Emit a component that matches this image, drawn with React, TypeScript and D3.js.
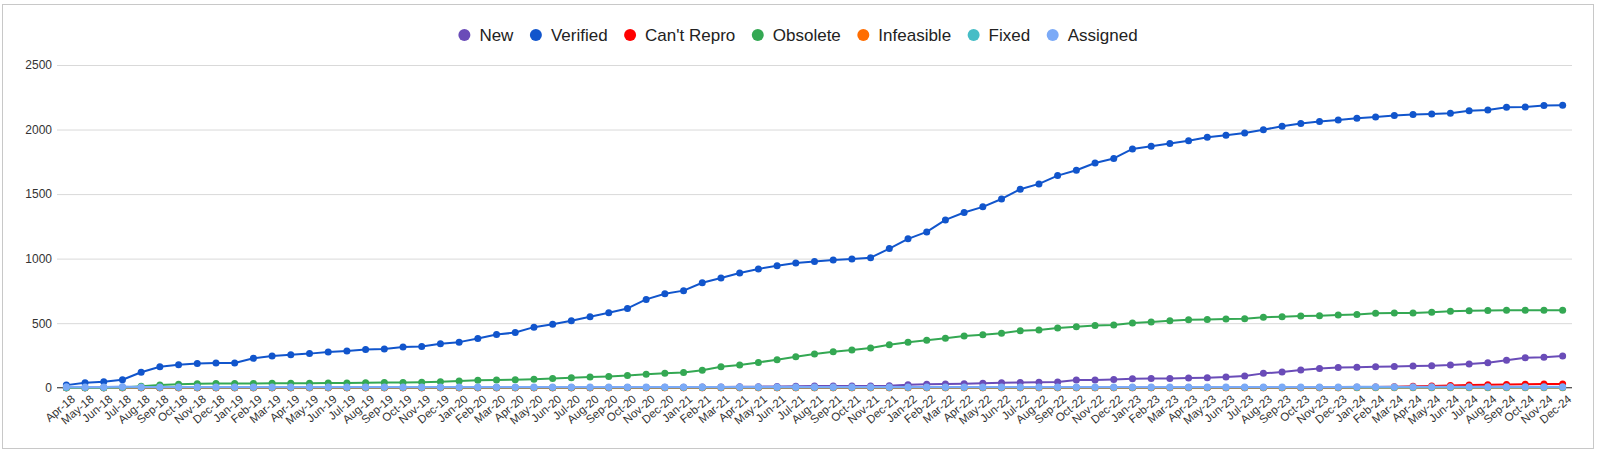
import React, { useEffect, useRef } from "react";
import * as d3 from "d3";

const months = [
  "Apr-18", "May-18", "Jun-18", "Jul-18", "Aug-18", "Sep-18", "Oct-18", "Nov-18", "Dec-18",
  "Jan-19", "Feb-19", "Mar-19", "Apr-19", "May-19", "Jun-19", "Jul-19", "Aug-19", "Sep-19", "Oct-19", "Nov-19", "Dec-19",
  "Jan-20", "Feb-20", "Mar-20", "Apr-20", "May-20", "Jun-20", "Jul-20", "Aug-20", "Sep-20", "Oct-20", "Nov-20", "Dec-20",
  "Jan-21", "Feb-21", "Mar-21", "Apr-21", "May-21", "Jun-21", "Jul-21", "Aug-21", "Sep-21", "Oct-21", "Nov-21", "Dec-21",
  "Jan-22", "Feb-22", "Mar-22", "Apr-22", "May-22", "Jun-22", "Jul-22", "Aug-22", "Sep-22", "Oct-22", "Nov-22", "Dec-22",
  "Jan-23", "Feb-23", "Mar-23", "Apr-23", "May-23", "Jun-23", "Jul-23", "Aug-23", "Sep-23", "Oct-23", "Nov-23", "Dec-23",
  "Jan-24", "Feb-24", "Mar-24", "Apr-24", "May-24", "Jun-24", "Jul-24", "Aug-24", "Sep-24", "Oct-24", "Nov-24", "Dec-24",
];

const newBugs = [
  0, 0, 0, 0, 0, 0, 0, 0, 0,
  0, 0, 0, 0, 0, 0, 0, 0, 0, 0, 0, 0,
  0, 0, 0, 0, 0, 0, 0, 0, 0, 1, 2, 3,
  4, 5, 6, 7, 8, 10, 11, 13, 13, 13, 13, 16,
  23, 27, 28, 31, 34, 39, 41, 42, 45, 59, 60, 63,
  69, 71, 72, 76, 78, 82, 91, 111, 121, 137, 148, 156,
  159, 162, 165, 168, 171, 175, 184, 194, 213, 232, 235, 245,
];

const verified = [
  20, 38, 46, 62, 120, 162, 177, 187, 192,
  192, 228, 246, 256, 264, 277, 285, 295, 300, 315, 320, 340,
  353, 381, 412, 427, 469, 492, 518, 549, 580, 614, 684, 728,
  752, 813, 850, 889, 920, 945, 966, 978, 989, 997, 1007, 1078,
  1153, 1207, 1300, 1357, 1401, 1462, 1538, 1579, 1643, 1685, 1741, 1776,
  1850, 1871, 1891, 1913, 1940, 1956, 1974, 1998, 2026, 2047, 2062, 2073,
  2088, 2098, 2109, 2116, 2121, 2127, 2145, 2152, 2173, 2175, 2186, 2188,
];

const cantRepro = [
  0, 0, 0, 0, 0, 0, 0, 0, 0,
  0, 0, 0, 0, 0, 0, 0, 0, 0, 0, 0, 0,
  0, 0, 0, 0, 0, 0, 0, 0, 0, 0, 0, 0,
  0, 0, 0, 0, 0, 0, 0, 0, 0, 0, 0, 0,
  0, 0, 0, 0, 0, 0, 0, 0, 0, 0, 0, 0,
  0, 0, 0, 0, 0, 0, 0, 0, 0, 0, 0, 0,
  3, 5, 8, 11, 14, 17, 20, 22, 25, 27, 28, 28,
];

const obsolete = [
  0, 0, 0, 2, 12, 20, 27, 30, 32,
  33, 33, 34, 34, 35, 36, 37, 38, 40, 41, 43, 46,
  52, 58, 60, 62, 65, 71, 77, 82, 87, 95, 104, 112,
  117, 136, 162, 175, 196, 217, 239, 261, 279, 293, 307, 332,
  352, 367, 383, 401, 411, 421, 442, 447, 463, 473, 481, 486,
  501, 509, 519, 527, 529, 532, 535, 545, 550, 555, 558, 563,
  568, 576, 578, 579, 584, 592, 597, 599, 600, 600, 600, 600,
];

const infeasible = [
  0, 0, 0, 0, 0, 0, 0, 0, 0,
  0, 0, 0, 0, 0, 0, 0, 0, 0, 0, 0, 0,
  0, 0, 0, 0, 0, 0, 0, 0, 0, 0, 0, 0,
  0, 0, 0, 0, 0, 0, 0, 0, 0, 0, 0, 0,
  0, 0, 0, 0, 0, 0, 0, 0, 0, 0, 0, 0,
  0, 0, 0, 0, 0, 0, 0, 0, 0, 0, 0, 0,
  0, 0, 0, 0, 0, 0, 0, 0, 0, 0, 0, 0,
];

const fixed = [
  0, 0, 0, 2, 2, 2, 2, 2, 2,
  2, 2, 2, 2, 2, 2, 2, 2, 2, 2, 2, 2,
  2, 2, 2, 2, 2, 2, 2, 2, 2, 2, 2, 2,
  2, 2, 2, 2, 2, 2, 2, 2, 2, 2, 2, 2,
  2, 2, 2, 2, 2, 2, 2, 2, 2, 2, 2, 2,
  2, 2, 2, 2, 2, 2, 2, 2, 2, 2, 2, 2,
  2, 2, 2, 2, 2, 2, 2, 2, 2, 2, 2, 2,
];

const assigned = [
  8, 6, 6, 10, 6, 6, 6, 6, 6,
  6, 6, 6, 6, 6, 6, 6, 6, 6, 6, 6, 6,
  6, 6, 6, 6, 6, 6, 6, 6, 6, 6, 6, 6,
  6, 6, 6, 6, 6, 6, 6, 6, 6, 6, 6, 6,
  6, 6, 6, 6, 6, 6, 6, 6, 6, 6, 6, 6,
  6, 6, 6, 6, 6, 6, 6, 6, 6, 6, 6, 6,
  7, 7, 7, 7, 7, 7, 7, 7, 7, 7, 7, 7,
];

const seriesNames = ["New", "Verified", "Can't Repro", "Obsolete", "Infeasible", "Fixed", "Assigned"];
const seriesColors = ["#6a4cb8", "#1155cc", "#ff0000", "#34a853", "#ff6d01", "#46bdc6", "#7baaf7"];
const seriesValues = [newBugs, verified, cantRepro, obsolete, infeasible, fixed, assigned];

const yTicks = [0, 500, 1000, 1500, 2000, 2500];

const FONT = "'Liberation Sans', Arial, sans-serif";

const App = () => {
  const ref = useRef<SVGSVGElement>(null);

  useEffect(() => {
    const svg = d3.select(ref.current);
    svg.selectAll("*").remove();

    const left = 57;
    const right = 1572;
    const top = 65;
    const bottom = 387.7;

    const x = d3.scaleBand<string>().domain(months).range([left, right]).padding(0);
    const cx = (m: string) => (x(m) as number) + x.bandwidth() / 2;
    const y = d3.scaleLinear().domain([0, 2500]).range([bottom, top]);

    // chart frame
    svg
      .append("rect")
      .attr("x", 2.5)
      .attr("y", 4.5)
      .attr("width", 1591)
      .attr("height", 444)
      .attr("fill", "#fff")
      .attr("stroke", "#c8c8c8");

    // y gridlines + labels
    const yAxis = svg
      .append("g")
      .attr("transform", `translate(${left},0)`)
      .call(d3.axisLeft(y).tickValues(yTicks).tickSize(-(right - left)).tickPadding(5).tickFormat(d3.format("d")));
    yAxis.select(".domain").remove();
    yAxis.selectAll(".tick line").attr("stroke", "#d9d9d9");
    yAxis
      .selectAll(".tick text")
      .attr("fill", "#333")
      .style("font-family", FONT)
      .style("font-size", "12px");

    // baseline
    svg
      .append("line")
      .attr("x1", left)
      .attr("x2", right)
      .attr("y1", y(0))
      .attr("y2", y(0))
      .attr("stroke", "#333");

    // x labels, slanted
    const xAxis = svg
      .append("g")
      .attr("transform", `translate(0,${bottom})`)
      .call(d3.axisBottom(x).tickSize(0));
    xAxis.select(".domain").remove();
    xAxis
      .selectAll(".tick text")
      .attr("x", 4)
      .attr("y", 6)
      .attr("dy", "0.75em")
      .attr("text-anchor", "end")
      .attr("transform", "rotate(-40, 4, 6)")
      .attr("fill", "#333")
      .style("font-family", FONT)
      .style("font-size", "11.5px");

    // series
    const myLine = d3
      .line<number>()
      .x((v, i) => cx(months[i]))
      .y((v) => y(v));

    seriesValues.forEach((values, s) => {
      const g = svg.append("g");
      g.append("path")
        .attr("d", myLine(values))
        .attr("fill", "none")
        .attr("stroke", seriesColors[s])
        .attr("stroke-width", 2)
        .attr("stroke-linejoin", "round");
      g.selectAll("circle")
        .data(values)
        .join("circle")
        .attr("cx", (v, i) => cx(months[i]))
        .attr("cy", (v) => y(v))
        .attr("r", 3.5)
        .attr("fill", seriesColors[s]);
    });

    // legend
    const legend = svg.append("g");
    let pos = 0;
    seriesNames.forEach((name, s) => {
      const item = legend.append("g");
      item
        .append("circle")
        .attr("cx", pos + 6)
        .attr("cy", 35)
        .attr("r", 6)
        .attr("fill", seriesColors[s]);
      const t = item
        .append("text")
        .attr("x", pos + 21)
        .attr("y", 35)
        .attr("dy", "0.36em")
        .attr("fill", "#222")
        .style("font-family", FONT)
        .style("font-size", "17px")
        .text(name);
      const w = (t.node() as SVGTextElement).getComputedTextLength();
      pos += 21 + w + (s < seriesNames.length - 1 ? 16.5 : 0);
    });
    legend.attr("transform", `translate(${798 - pos / 2},0)`);
  }, []);

  return (
    <div style={{ position: "absolute", left: 0, top: 0 }}>
      <svg ref={ref} width={1600} height={455} style={{ display: "block" }} />
    </div>
  );
};

export default App;
